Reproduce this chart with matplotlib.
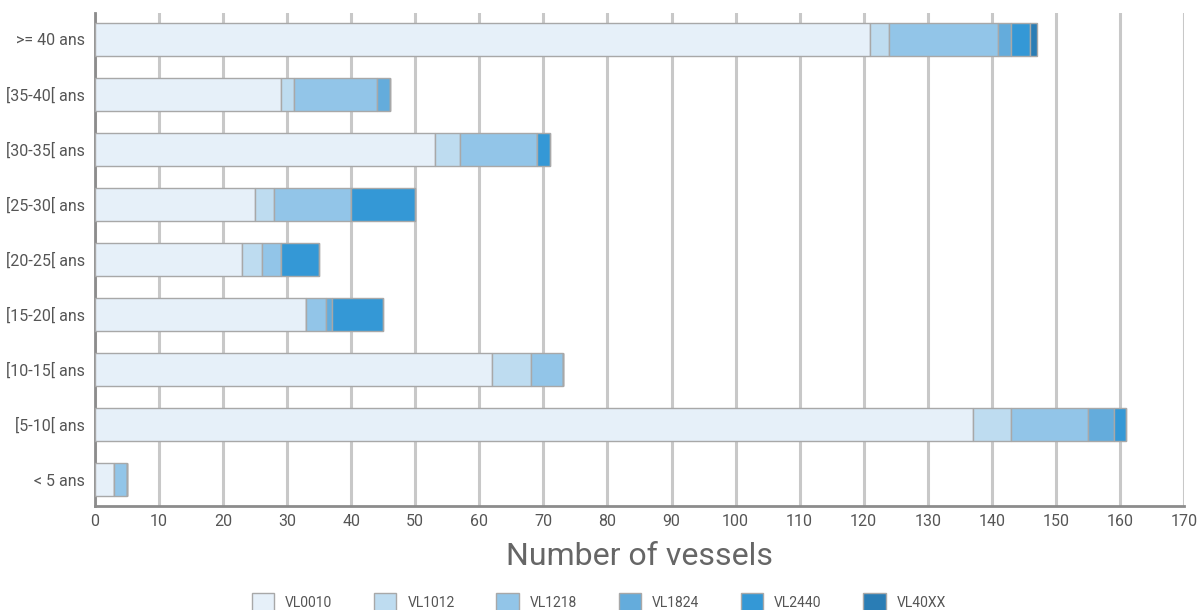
import matplotlib.pyplot as plt
import numpy as np
from matplotlib import font_manager

categories = ['>= 40 ans', '[35-40[ ans', '[30-35[ ans', '[25-30[ ans', '[20-25[ ans',
              '[15-20[ ans', '[10-15[ ans', '[5-10[ ans', '< 5 ans']
series = ['VL0010', 'VL1012', 'VL1218', 'VL1824', 'VL2440', 'VL40XX']
colors = ['#e6f0f9', '#bedcf0', '#92c5e8', '#64acdc', '#3498d6', '#2a7db5']

vl0010 = [121, 29, 53, 25, 23, 33, 62, 137, 3]
vl1012 = [3, 2, 4, 3, 3, 0, 6, 6, 0]
vl1218 = [17, 13, 12, 12, 3, 3, 5, 12, 2]
vl1824 = [2, 2, 0, 0, 0, 1, 0, 4, 0]
vl2440 = [3, 0, 2, 10, 6, 8, 0, 2, 0]
vl40xx = [1, 0, 0, 0, 0, 0, 0, 0, 0]
values = [vl0010, vl1012, vl1218, vl1824, vl2440, vl40xx]

xticks = list(range(0, 171, 10))

names = {f.name for f in font_manager.fontManager.ttflist}
font = 'Liberation Sans Narrow' if 'Liberation Sans Narrow' in names else 'Roboto'
plt.rcParams['font.family'] = [font, 'DejaVu Sans']

fig = plt.figure(figsize=(11.98, 6.10), dpi=100)
ax = fig.add_axes([95 / 1198, 1 - 506 / 610, (1184 - 95) / 1198, (506 - 13) / 610])

y = np.arange(len(categories))
left = np.zeros(len(categories))
for name, vals, col in zip(series, values, colors):
    vals = np.array(vals, dtype=float)
    ax.barh(y, vals, left=left, height=0.6, color=col, edgecolor='#a8a8a8',
            linewidth=1.0, label=name, zorder=3)
    left += vals

ax.set_xlim(0, 170)
ax.set_ylim(8.48, -0.48)
ax.set_xticks(xticks)
ax.set_yticks(y)
ax.set_yticklabels(categories)
ax.grid(axis='x', color='#c8c8c8', linewidth=2.2, zorder=0)
ax.tick_params(axis='both', length=0, colors='#555555', labelsize=11.5, pad=6)
ax.tick_params(axis='y', pad=7)
for s in ['top', 'right']:
    ax.spines[s].set_visible(False)
for s in ['left', 'bottom']:
    ax.spines[s].set_color('#8c8c8c')
    ax.spines[s].set_linewidth(2)
ax.spines['bottom'].set_zorder(4)

ax.set_xlabel('Number of vessels', fontsize=23, color='#666666', labelpad=9)

leg = fig.legend(loc='lower center', bbox_to_anchor=(0.5, -0.022), ncol=6,
                 frameon=False, fontsize=10, handlelength=1.6, handleheight=1.6,
                 columnspacing=3.0, handletextpad=0.8)
for t in leg.get_texts():
    t.set_color('#555555')

fig.savefig('out.png', dpi=100)
